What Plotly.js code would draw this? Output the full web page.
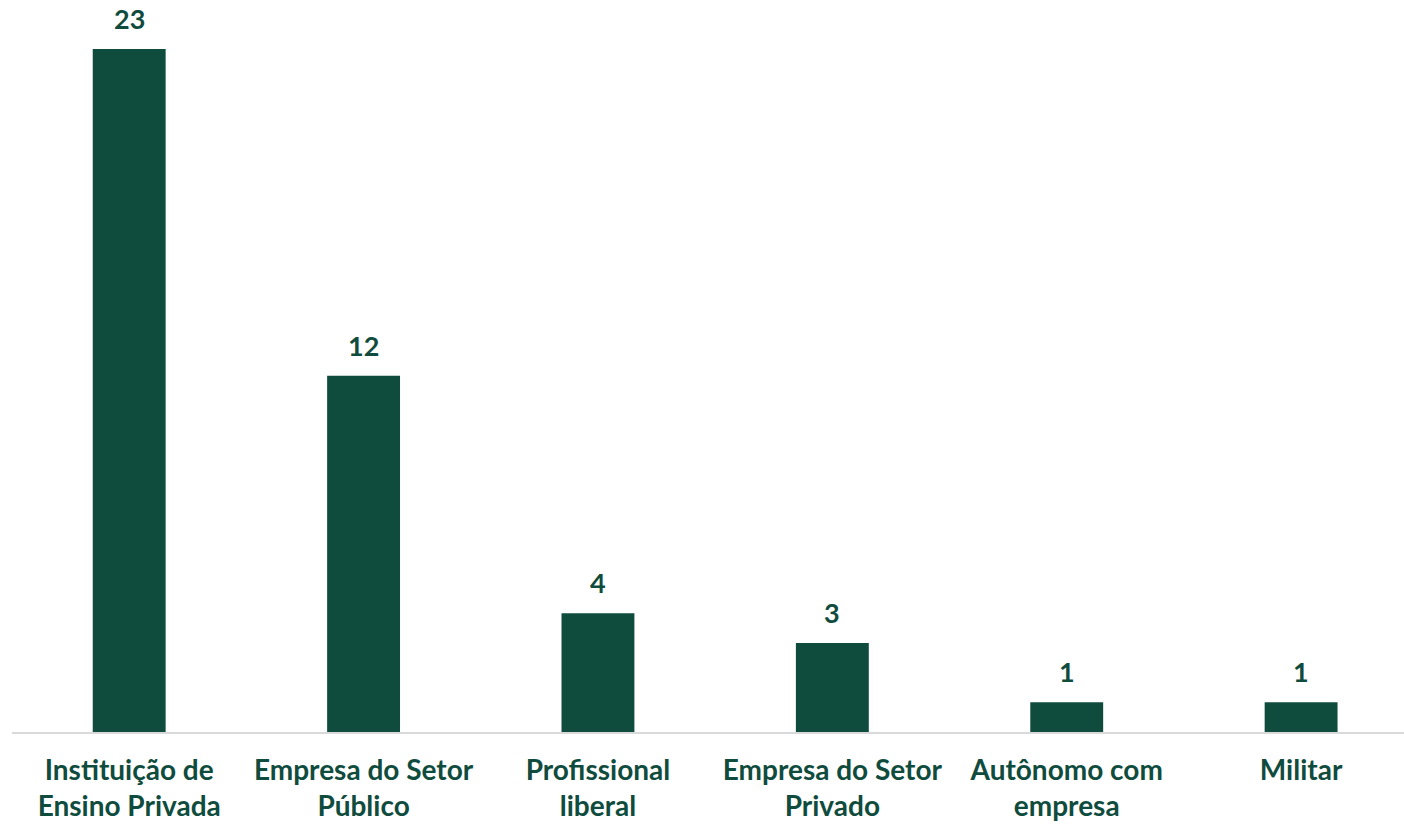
<!DOCTYPE html>
<html><head><meta charset="utf-8">
<script src="https://cdn.plot.ly/plotly-3.0.1.min.js"></script>
<style>html,body{margin:0;padding:0;background:#fff}</style>
</head><body>
<div id="chart" style="width:1404px;height:824px"></div>
<script>
const categories = ["Instituição de<br>Ensino Privada","Empresa do Setor<br>Público","Profissional<br>liberal","Empresa do Setor<br>Privado","Autônomo com<br>empresa","Militar"];
const values = [23,12,4,3,1,1];
const green = "#0f4c3e";
const fontFam = "Lato, 'Source Sans Pro', sans-serif";

const annotations = categories.map((c,i)=>({
  x: i, y: values[i], xref:'x', yref:'y', text: '<b>'+values[i]+'</b>',
  showarrow:false, yanchor:'bottom', yshift:12,
  font:{family:fontFam, size:27, color:green}
}));

Plotly.newPlot('chart',[{
  type:'bar', x: categories.map((c,i)=>i), y: values,
  marker:{color:green}, hoverinfo:'none'
}],{
  width:1404, height:824,
  margin:{l:12,r:0,t:0,b:92},
  bargap:0.689,
  plot_bgcolor:'#fff', paper_bgcolor:'#fff',
  xaxis:{tickmode:'array', tickvals:categories.map((c,i)=>i), ticktext:categories.map(c=>'<b>'+c.replace('<br>','</b><br><b>')+'</b>'),
    showline:true, linecolor:'#d9d9d9', linewidth:2, ticks:'', showgrid:false, zeroline:false,
    tickfont:{family:fontFam, size:28, color:green}, ticklabelstandoff:12, range:[-0.5,5.439]},
  yaxis:{range:[0,24.65], visible:false, showgrid:false, zeroline:false},
  annotations: annotations,
  showlegend:false
},{staticPlot:true});
</script>
</body></html>
